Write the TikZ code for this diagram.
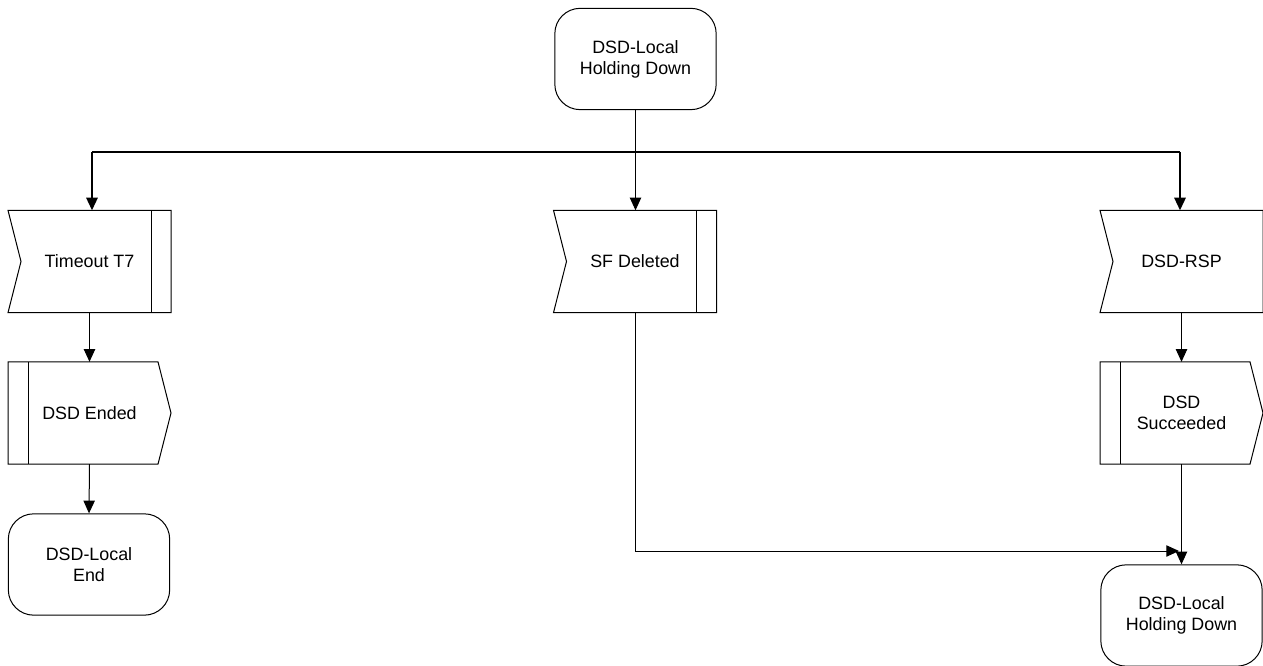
\documentclass[tikz,border=0pt]{standalone}
\usepackage{fontspec}
\setmainfont{Liberation Sans}
\usetikzlibrary{arrows.meta,calc}

\tikzset{
	state/.style={draw, rounded corners=19pt, minimum width=121pt, minimum height=76pt, inner sep=0pt, align=center},
	sdl/.style={minimum width=121.5pt, minimum height=76pt, inner sep=0pt, align=center},
	arr/.style={-{Triangle[length=9.5pt, width=8.5pt]}},
	bus/.style={line width=1.5pt}
}
\newcommand{\inputsig}[1]{\draw (#1.north west) -- (#1.north east) -- (#1.south east) -- (#1.south west) -- ($(#1.west)+(13, 0)$) -- cycle;}
\newcommand{\outputsig}[1]{\draw (#1.north west) -- ($(#1.north east)+(-13, 0)$) -- (#1.east) -- ($(#1.south east)+(-13, 0)$) -- (#1.south west) -- cycle;}
\newcommand{\rightbar}[1]{\draw ($(#1.north east)+(-20, 0)$) -- ($(#1.south east)+(-20, 0)$);}
\newcommand{\leftbar}[1]{\draw ($(#1.north west)+(20, 0)$) -- ($(#1.south west)+(20, 0)$);}

\begin{document}
\begin{tikzpicture}[x=0.75pt, y=-0.75pt, line width=0.75pt, font=\fontsize{13.4pt}{15.75pt}\selectfont]
		\useasboundingbox (0, 0) rectangle (1263, 666);

		\node [state] (holdtop) at (635.5, 59) {DSD-Local\\Holding Down};

		\node [sdl] (timeout) at (89.5, 261.5) {Timeout T7};
		\node [sdl] (sfdel) at (635, 261.5) {SF Deleted};
		\node [sdl] (dsdrsp) at (1181.5, 261.5) {DSD-RSP};
		\inputsig{timeout}
		\inputsig{sfdel}
		\inputsig{dsdrsp}
		\rightbar{timeout}
		\rightbar{sfdel}

		\node [sdl] (ended) at (89.5, 413) {DSD Ended};
		\node [sdl] (succ) at (1181.5, 413) {DSD\\Succeeded};
		\outputsig{ended}
		\outputsig{succ}
		\leftbar{ended}
		\leftbar{succ}

		\node [state] (localend) at (89, 564.5) {DSD-Local\\End};
		\node [state] (holdbot) at (1181.5, 615.5) {DSD-Local\\Holding Down};

		\coordinate (busl) at (92, 152);
		\coordinate (busr) at (1180, 152);
		\coordinate (join) at (1179, 551);

		\draw [arr] (holdtop.south) -- (holdtop.south |- sfdel.north);
		\draw [bus] (busl) -- (busr);
		\draw [bus, arr] (busl) -- (busl |- timeout.north);
		\draw [bus, arr] (busr) -- (busr |- dsdrsp.north);
		\draw [arr] (timeout.south) -- (ended.north);
		\draw [arr] (ended.south) -- (localend.north);
		\draw [arr] (dsdrsp.south) -- (succ.north);
		\draw [arr] (succ.south) -- (holdbot.north);
		\draw [arr] (sfdel.south) |- (join);
	\end{tikzpicture}
\end{document}
